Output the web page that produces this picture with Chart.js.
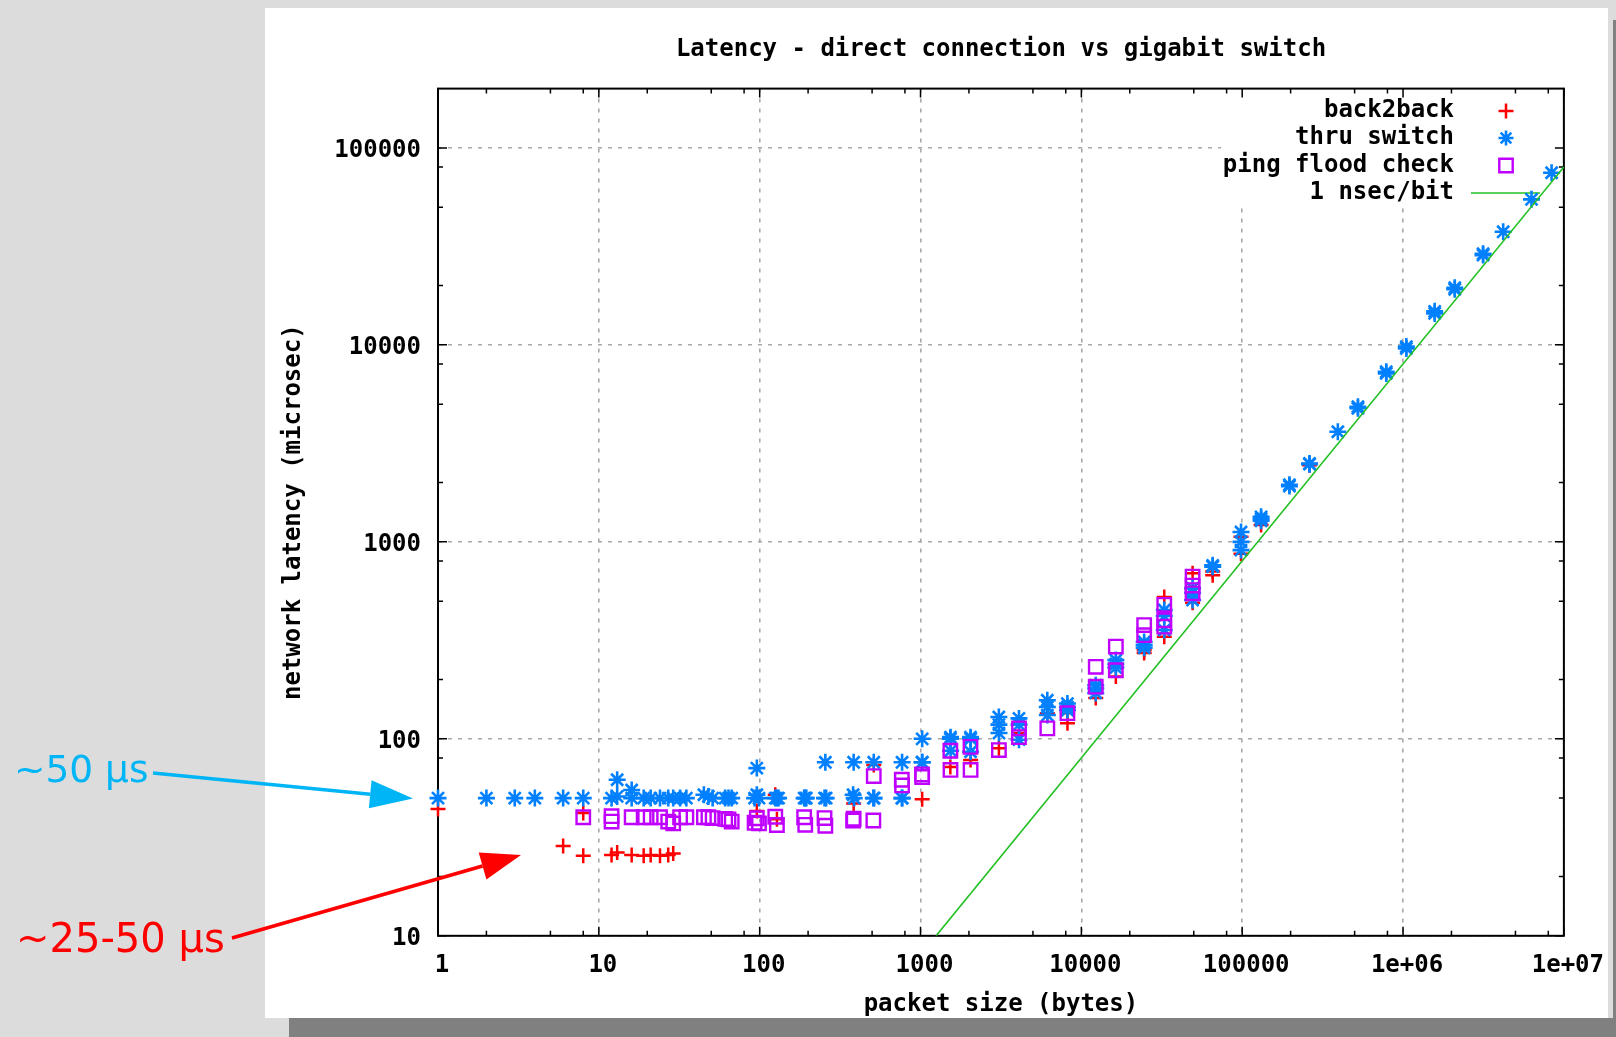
<!DOCTYPE html>
<html>
<head>
<meta charset="utf-8">
<title>Latency - direct connection vs gigabit switch</title>
<script src="https://cdn.jsdelivr.net/npm/chart.js@4.4.1/dist/chart.umd.min.js"></script>
<style>
  html, body { margin: 0; padding: 0; }
  body { width: 1616px; height: 1037px; background: #dcdcdc; position: relative; overflow: hidden; }
  .panel { position: absolute; left: 265px; top: 8px; width: 1343px; height: 1010px; background: #fff; }
  .shadow-b { position: absolute; left: 289px; top: 1018px; width: 1327px; height: 19px; background: #808080; }
  .shadow-r { position: absolute; left: 1613px; top: 20px; width: 3px; height: 1017px; background: #808080; }
  #chart { position: absolute; left: 0; top: 0; }
</style>
</head>
<body>
<div class="panel"></div>
<div class="shadow-b"></div>
<div class="shadow-r"></div>
<canvas id="chart" width="1616" height="1037"></canvas>
<script>
// --- data (packet size in bytes, latency in microsec) ---
const back2backSize = [1, 6, 8, 8, 12, 13, 16, 19, 21, 24, 27, 29,
  96, 125, 128, 384, 512, 1024,
  1533, 2048, 3072, 4096, 6144, 8192, 8195,
  12288, 16384, 24573, 24576, 32768, 32771, 49152, 49155,
  65533, 65536, 98301, 98304, 131072, 262144];
const back2backLatency = [44, 28.6, 42, 25.5, 25.7, 26.5, 25.7, 25.5, 25.7, 25.5, 25.7, 26.2,
  43, 52, 39, 47, 73.6, 49.3,
  72, 78, 89.5, 107, 135, 135, 120,
  161, 207, 273, 282, 525, 330, 692, 490,
  708, 676, 1062, 871, 1216, 2450];

const switchSize = [1, 2, 3, 4, 6, 8,
  12, 13, 13, 16, 16, 19, 21, 24, 27, 29, 32, 35,
  45, 48, 51, 61, 64, 67,
  93, 96, 96, 99, 125, 128, 131, 189, 192, 195,
  253, 256, 259, 381, 384, 387, 509, 512, 515, 765, 768, 771,
  1021, 1024, 1027, 1533, 1536, 1539, 2045, 2048, 2051,
  3069, 3072, 3075, 4093, 4096, 4099, 6141, 6144, 6147, 8189, 8192, 8195,
  12285, 12288, 12291, 16381, 16384, 16387, 24573, 24576, 24579,
  32765, 32768, 32771, 49149, 49152, 49155, 65533, 65536,
  98301, 98304, 98307, 131069, 131072, 131075, 196605, 196608,
  262141, 262144, 393216, 524285, 524288, 786429, 786432,
  1048573, 1048576, 1572861, 1572864, 2097149, 2097152,
  3145728, 3145731, 4194304, 6291456, 8388608];
const switchLatency = [50, 50, 50, 50, 50, 50,
  50, 51, 62, 50, 55, 50, 50, 50, 50, 50, 50, 50,
  52, 51, 50, 50, 50, 50,
  50, 71, 52, 50, 50, 50, 50, 50, 50, 50,
  50, 76, 50, 52, 76, 50, 50, 76, 50, 50, 76, 50,
  76, 100, 76, 100, 102, 87, 102, 86, 100,
  129, 118, 107, 127, 99, 118, 157, 145, 132, 151, 145, 140,
  187, 171, 180, 251, 230, 240, 299, 310, 290,
  451, 357, 420, 581, 507, 550, 748, 760,
  1122, 1000, 908, 1340, 1280, 1310, 1919, 1950,
  2501, 2480, 3622, 4764, 4850, 7162, 7300,
  9590, 9800, 14450, 14800, 19150, 19500,
  28560, 29000, 37500, 54800, 74800];

const floodSize = [8,
  12, 12, 16, 19, 21, 24, 27, 29, 32, 35,
  45, 48, 51, 61, 64, 67,
  93, 96, 99, 125, 128, 189, 192, 253, 256,
  381, 384, 509, 512, 765, 768, 1021, 1024,
  1533, 1536, 2045, 2048, 3072, 4093, 4096, 6144, 8192,
  12285, 12288, 16381, 16384, 24573, 24576,
  32765, 32768, 32771, 49149, 49152, 49155];
const floodLatency = [40,
  38, 40.5, 40, 40, 40, 40, 38, 37.2, 40, 40,
  40, 40, 39.6, 39.2, 39, 38,
  37.5, 39.5, 37.2, 40.2, 36.5, 40, 36.6, 39.6, 36.2,
  38.5, 39.3, 38.5, 64.7, 62, 58, 66, 64,
  87, 69.5, 91, 69.5, 87.7, 102, 113, 113, 135,
  184, 232, 223, 294, 336, 378,
  400, 479, 371, 600, 666, 548];

// reference line: end points where it leaves the frame
const nsecSize = [1250, 10000000];
const nsecLatency = [10, 80000];

const xTickValues = [1, 10, 100, 1000, 10000, 100000, 1000000, 10000000];
const xTickLabels = ['1', '10', '100', '1000', '10000', '100000', '1e+06', '1e+07'];
const yTickValues = [10, 100, 1000, 10000, 100000];
const yTickLabels = ['10', '100', '1000', '10000', '100000'];
const minorFactors = [2, 5, 8];

const MONO = "'DejaVu Sans Mono', monospace";
const pairs = (xs, ys) => xs.map((v, i) => ({ x: v, y: ys[i] }));

// --- key + frame + tics, drawn gnuplot style ---
const KEY_LEFT = 1221, KEY_BOTTOM = 205;
const KEY_TEXT_X = 1454, KEY_SYM_X = 1506, KEY_ROWS = [111, 138, 165.5, 193];

function drawSymbol(ctx, style, x, y, r) {
  ctx.beginPath();
  if (style === 'cross' || style === 'star') {
    ctx.moveTo(x - r, y); ctx.lineTo(x + r, y);
    ctx.moveTo(x, y - r); ctx.lineTo(x, y + r);
  }
  if (style === 'star') {
    const d = r * Math.SQRT1_2;
    ctx.moveTo(x - d, y - d); ctx.lineTo(x + d, y + d);
    ctx.moveTo(x - d, y + d); ctx.lineTo(x + d, y - d);
  }
  if (style === 'rect') {
    const s = r * Math.SQRT1_2;
    ctx.rect(x - s, y - s, 2 * s, 2 * s);
  }
  ctx.stroke();
}

function drawArrow(ctx, x0, y0, x1, y1, head, half, color, width) {
  const a = Math.atan2(y1 - y0, x1 - x0);
  const bx = x1 - head * Math.cos(a), by = y1 - head * Math.sin(a);
  ctx.strokeStyle = color; ctx.fillStyle = color; ctx.lineWidth = width;
  ctx.beginPath(); ctx.moveTo(x0, y0); ctx.lineTo(bx, by); ctx.stroke();
  ctx.beginPath();
  ctx.moveTo(x1, y1);
  ctx.lineTo(bx + half * Math.sin(a), by - half * Math.cos(a));
  ctx.lineTo(bx - half * Math.sin(a), by + half * Math.cos(a));
  ctx.closePath(); ctx.fill();
}

const gnuplotFrame = {
  id: 'gnuplotFrame',
  beforeDatasetsDraw(chart) {
    const { ctx, chartArea: a, scales: { x, y } } = chart;
    ctx.save();
    // white key box hides the grid behind the key
    ctx.fillStyle = '#fff';
    ctx.fillRect(KEY_LEFT, a.top + 1, a.right - KEY_LEFT - 1, KEY_BOTTOM - a.top);

    // tics pointing inward on all four sides
    ctx.strokeStyle = '#000';
    ctx.lineWidth = 1.5;
    ctx.beginPath();
    const xTic = (v, len) => {
      const p = x.getPixelForValue(v);
      ctx.moveTo(p, a.bottom); ctx.lineTo(p, a.bottom - len);
      ctx.moveTo(p, a.top); ctx.lineTo(p, a.top + len);
    };
    const yTic = (v, len) => {
      const p = y.getPixelForValue(v);
      ctx.moveTo(a.left, p); ctx.lineTo(a.left + len, p);
      ctx.moveTo(a.right, p); ctx.lineTo(a.right - len, p);
    };
    xTickValues.forEach(d => {
      xTic(d, 9);
      minorFactors.forEach(f => { if (f * d < x.max) xTic(f * d, 5); });
    });
    yTickValues.forEach(d => {
      yTic(d, 9);
      minorFactors.forEach(f => { if (f * d < y.max) yTic(f * d, 5); });
    });
    ctx.stroke();

    ctx.lineWidth = 2;
    ctx.strokeRect(a.left, a.top, a.right - a.left, a.bottom - a.top);

    // key entries
    ctx.font = 'bold 24px ' + MONO;
    ctx.textAlign = 'right';
    ctx.textBaseline = 'middle';
    chart.data.datasets.forEach((ds, i) => {
      const row = KEY_ROWS[i];
      ctx.fillStyle = '#000';
      ctx.fillText(ds.label, KEY_TEXT_X, row);
      ctx.strokeStyle = ds.borderColor;
      if (ds.showLine) {
        ctx.lineWidth = ds.borderWidth;
        ctx.beginPath(); ctx.moveTo(1471, row); ctx.lineTo(1540, row); ctx.stroke();
      } else {
        ctx.lineWidth = ds.pointBorderWidth;
        drawSymbol(ctx, ds.pointStyle, KEY_SYM_X, row, ds.pointStyle === 'rect' ? 9.5 : 7.5);
      }
    });
    ctx.restore();
  },
  afterDraw(chart) {
    const { ctx } = chart;
    ctx.save();
    ctx.fillStyle = '#000';
    ctx.font = 'bold 24px ' + MONO;
    ctx.textAlign = 'center';
    ctx.textBaseline = 'alphabetic';
    ctx.fillText('Latency - direct connection vs gigabit switch', 1001, 56);

    // hand-made callouts on the left margin
    drawArrow(ctx, 153, 773, 413, 798.5, 43, 14, '#00b5f5', 3.5);
    drawArrow(ctx, 232, 938, 521, 855, 40, 14, '#ff0000', 3.5);
    ctx.textAlign = 'left';
    ctx.font = "37.5px 'DejaVu Sans', sans-serif";
    ctx.fillStyle = '#00b5f5';
    ctx.fillText('~50 µs', 14, 782);
    ctx.font = "40px 'DejaVu Sans', sans-serif";
    ctx.fillStyle = '#ff0000';
    ctx.fillText('~25-50 µs', 16, 952);
    ctx.restore();
  }
};

const axisFont = { family: MONO, size: 24, weight: 'bold' };
const gridStyle = { color: '#a8a8a8', lineWidth: 1.6, drawTicks: false };

new Chart(document.getElementById('chart'), {
  type: 'scatter',
  data: {
    datasets: [
      {
        label: 'back2back', data: pairs(back2backSize, back2backLatency),
        pointStyle: 'cross', pointRadius: 7.5, pointBorderWidth: 2.5,
        borderColor: '#ff0000', backgroundColor: 'rgba(0,0,0,0)', clip: false, order: 4
      },
      {
        label: 'thru switch', data: pairs(switchSize, switchLatency),
        pointStyle: 'star', pointRadius: 8.5, pointBorderWidth: 2.6,
        borderColor: '#0080ff', backgroundColor: 'rgba(0,0,0,0)', clip: false, order: 3
      },
      {
        label: 'ping flood check', data: pairs(floodSize, floodLatency),
        pointStyle: 'rect', pointRadius: 9.5, pointBorderWidth: 2.4,
        borderColor: '#c000ff', backgroundColor: 'rgba(0,0,0,0)', clip: false, order: 2
      },
      {
        label: '1 nsec/bit', data: pairs(nsecSize, nsecLatency),
        showLine: true, pointRadius: 0, borderWidth: 1.6,
        borderColor: '#22c022', backgroundColor: '#22c022', order: 1
      }
    ]
  },
  options: {
    responsive: false,
    animation: false,
    events: [],
    layout: { padding: { top: 88.6, right: 47.4, left: 0, bottom: 0 } },
    plugins: { legend: { display: false }, tooltip: { enabled: false } },
    scales: {
      x: {
        type: 'logarithmic', min: 1, max: 1e7,
        afterBuildTicks: s => { s.ticks = xTickValues.map(v => ({ value: v })); },
        afterFit: s => { s.height = 101.2; },
        ticks: {
          callback: v => xTickLabels[xTickValues.indexOf(v)],
          font: axisFont, color: '#000', padding: 16, labelOffset: 4,
          maxRotation: 0, autoSkip: false
        },
        grid: gridStyle,
        border: { display: false, dash: [4, 6] },
        title: { display: true, text: 'packet size (bytes)', font: axisFont, color: '#000', padding: { top: 0, bottom: 18 } }
      },
      y: {
        type: 'logarithmic', min: 10, max: 200000,
        afterBuildTicks: s => { s.ticks = yTickValues.map(v => ({ value: v })); },
        afterFit: s => { s.width = 438; },
        ticks: {
          callback: v => yTickLabels[yTickValues.indexOf(v)],
          font: axisFont, color: '#000', padding: 17, labelOffset: 3, autoSkip: false
        },
        grid: gridStyle,
        border: { display: false, dash: [4, 6] },
        title: { display: true, text: 'network latency (microsec)', font: axisFont, color: '#000', padding: { top: 279.3, bottom: 0 } }
      }
    }
  },
  plugins: [gnuplotFrame]
});
</script>
</body>
</html>
